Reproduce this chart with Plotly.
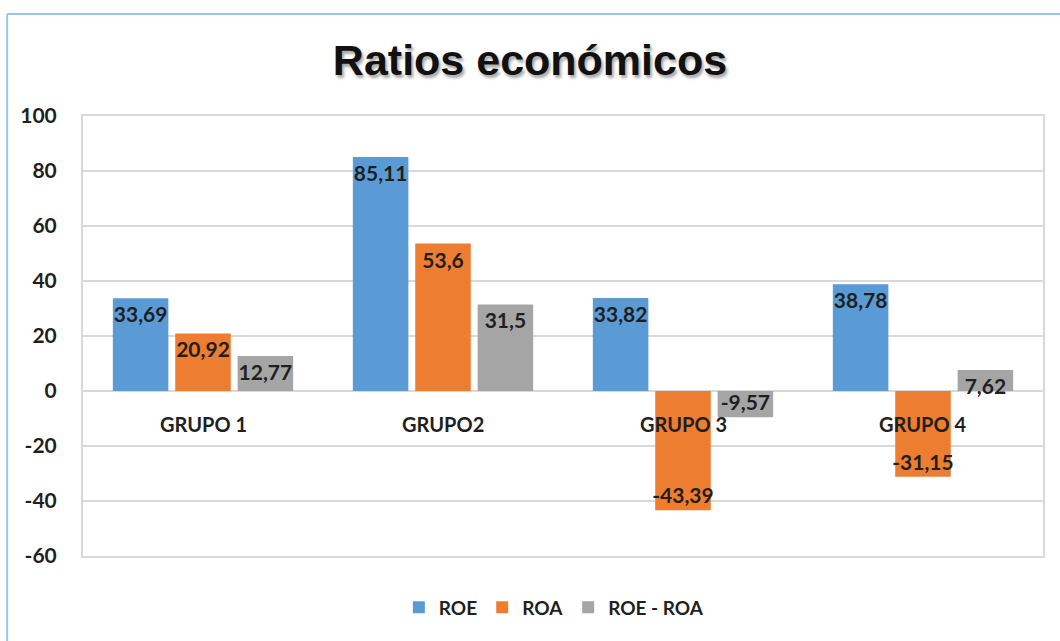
import plotly.graph_objects as go

# data
grupos = ["GRUPO 1", "GRUPO2", "GRUPO 3", "GRUPO 4"]
roe = [33.69, 85.11, 33.82, 38.78]
roa = [20.92, 53.6, -43.39, -31.15]
roe_roa = [12.77, 31.5, -9.57, 7.62]
y_ticks = [-60, -40, -20, 0, 20, 40, 60, 80, 100]

series = [
    ("ROE", roe, "#5B9BD5"),
    ("ROA", roa, "#ED7D31"),
    ("ROE - ROA", roe_roa, "#A5A5A5"),
]

FONT = "Lato, 'Open Sans', sans-serif"
TEXT_COL = "#1f1f1f"


def fmt(v):
    # excel style decimal comma
    return str(v).replace(".", ",")


fig = go.Figure()
for name, vals, col in series:
    fig.add_trace(go.Bar(
        x=grupos, y=vals, name=name,
        marker=dict(color=col, line=dict(width=0)),
        text=[fmt(v) for v in vals],
        textposition="inside", insidetextanchor="end",
        constraintext="none", textangle=0, cliponaxis=False,
        textfont=dict(family=FONT, size=21, color=TEXT_COL, weight="bold"),
    ))

# category labels sit right under the zero line, like excel's axis at 0
for g in grupos:
    fig.add_annotation(x=g, y=0, xref="x", yref="y", text=g, showarrow=False,
                       yanchor="top", yshift=-19,
                       font=dict(family=FONT, size=20, color=TEXT_COL, weight="bold"))

# light blue chart border (top and left edges visible)
fig.add_shape(type="line", xref="paper", yref="paper", x0=-0.079, x1=1.1, y0=1.232, y1=1.232,
              line=dict(color="#9DC3E6", width=2))
fig.add_shape(type="line", xref="paper", yref="paper", x0=-0.079, x1=-0.079, y0=-0.3, y1=1.232,
              line=dict(color="#9DC3E6", width=2))

fig.update_layout(
    width=1060, height=641,
    margin=dict(l=83, r=17, t=116, b=85, autoexpand=False),
    paper_bgcolor="white", plot_bgcolor="white",
    barmode="group", bargap=0.22, bargroupgap=0.11,
    title=dict(text="Ratios económicos", x=0.5, xanchor="center", y=0.906, yanchor="middle",
               font=dict(family="'Liberation Sans', Arial, sans-serif", size=43, color="#111111",
                         weight="bold", shadow="2px 3px 3px rgba(0,0,0,0.35)")),
    showlegend=True,
    legend=dict(orientation="h", x=0.329, xanchor="left", y=-0.117, yanchor="middle",
                font=dict(family=FONT, size=19, color=TEXT_COL, weight="bold"),
                itemwidth=30, traceorder="normal"),
    xaxis=dict(showticklabels=False, showgrid=False, zeroline=False,
               showline=True, linecolor="#D9D9D9", linewidth=2, mirror=True, ticks=""),
    yaxis=dict(range=[-60, 100], tickvals=y_ticks, ticktext=[str(t) for t in y_ticks],
               showgrid=True, gridcolor="#D9D9D9", gridwidth=2,
               zeroline=True, zerolinecolor="#D9D9D9", zerolinewidth=2,
               showline=True, linecolor="#D9D9D9", linewidth=2, mirror=True,
               ticks="", ticklabelstandoff=20,
               tickfont=dict(family=FONT, size=21, color=TEXT_COL, weight="bold")),
)

# drop the browser's default body margin so the figure sits at the page corner
fig.write_html("out.html", config={"displayModeBar": False},
               post_script="document.body.style.margin='0';")
